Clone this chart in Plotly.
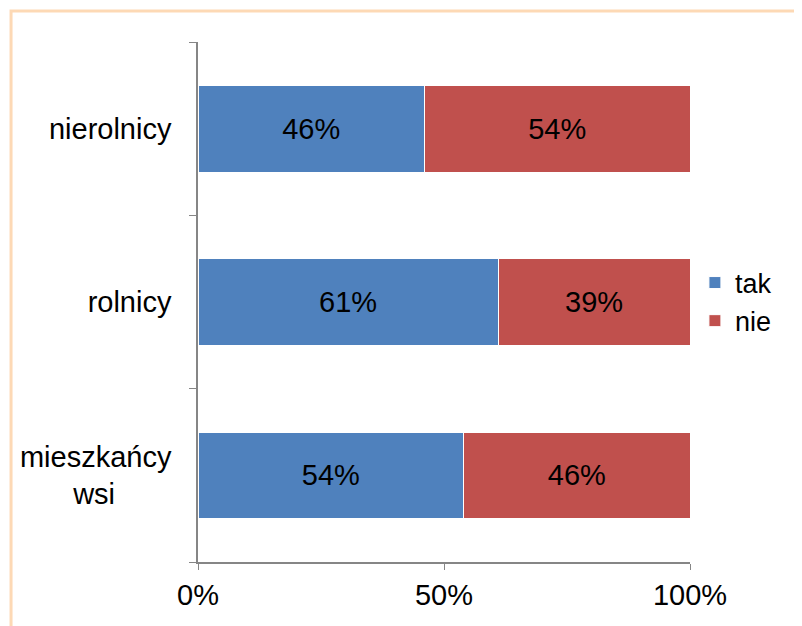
import plotly.graph_objects as go

# kategorie (od dołu do góry)
kategorie = ["mieszkańcy<br>wsi" + "\u00a0" * 7, "rolnicy", "nierolnicy"]
tak = [54, 61, 46]
nie = [46, 39, 54]
tick_x = [0, 50, 100]
tick_x_txt = ["0%", "50%", "100%"]

FONT = "Liberation Sans, Arial, sans-serif"
FS = 29

fig = go.Figure()
fig.add_trace(go.Bar(
    name="tak", y=kategorie, x=tak, orientation="h",
    marker=dict(color="#4F81BD", line=dict(color="white", width=1)),
    text=[f"{v}%" for v in tak], textposition="inside",
    insidetextanchor="middle", textfont=dict(color="black", size=FS),
))
fig.add_trace(go.Bar(
    name="nie", y=kategorie, x=nie, orientation="h",
    marker=dict(color="#C0504D", line=dict(color="white", width=1)),
    text=[f"{v}%" for v in nie], textposition="inside",
    insidetextanchor="middle", textfont=dict(color="black", size=FS),
))

# strona ma 8px marginesu, więc marginesy są przesunięte
fig.update_layout(
    barmode="stack",
    bargap=0.5,
    width=802, height=626,
    margin=dict(l=190, r=120, t=34, b=72),
    paper_bgcolor="white", plot_bgcolor="white",
    font=dict(family=FONT, size=FS, color="black"),
    uniformtext=dict(minsize=FS, mode="show"),
    legend=dict(x=1.01, y=0.5, xanchor="left", yanchor="middle",
                traceorder="normal", font=dict(size=27),
                itemwidth=30, tracegroupgap=0),
    xaxis=dict(range=[0, 100], tickvals=tick_x, ticktext=tick_x_txt,
               showgrid=False, zeroline=False, showline=True,
               linecolor="#868686", linewidth=1.5,
               ticks="outside", ticklen=6, tickcolor="#868686"),
    yaxis=dict(showgrid=False, showline=True, linecolor="#868686",
               linewidth=1.5, ticks="outside", ticklen=7,
               tickcolor="#868686", tickson="boundaries", ticklabelstandoff=19),
    shapes=[dict(type="rect", xref="paper", yref="paper",
                 x0=-0.38, x1=1.3, y0=-0.2, y1=1.0596,
                 line=dict(color="#FDD9B5", width=3), layer="below")],
)

fig.write_html("out.html")
